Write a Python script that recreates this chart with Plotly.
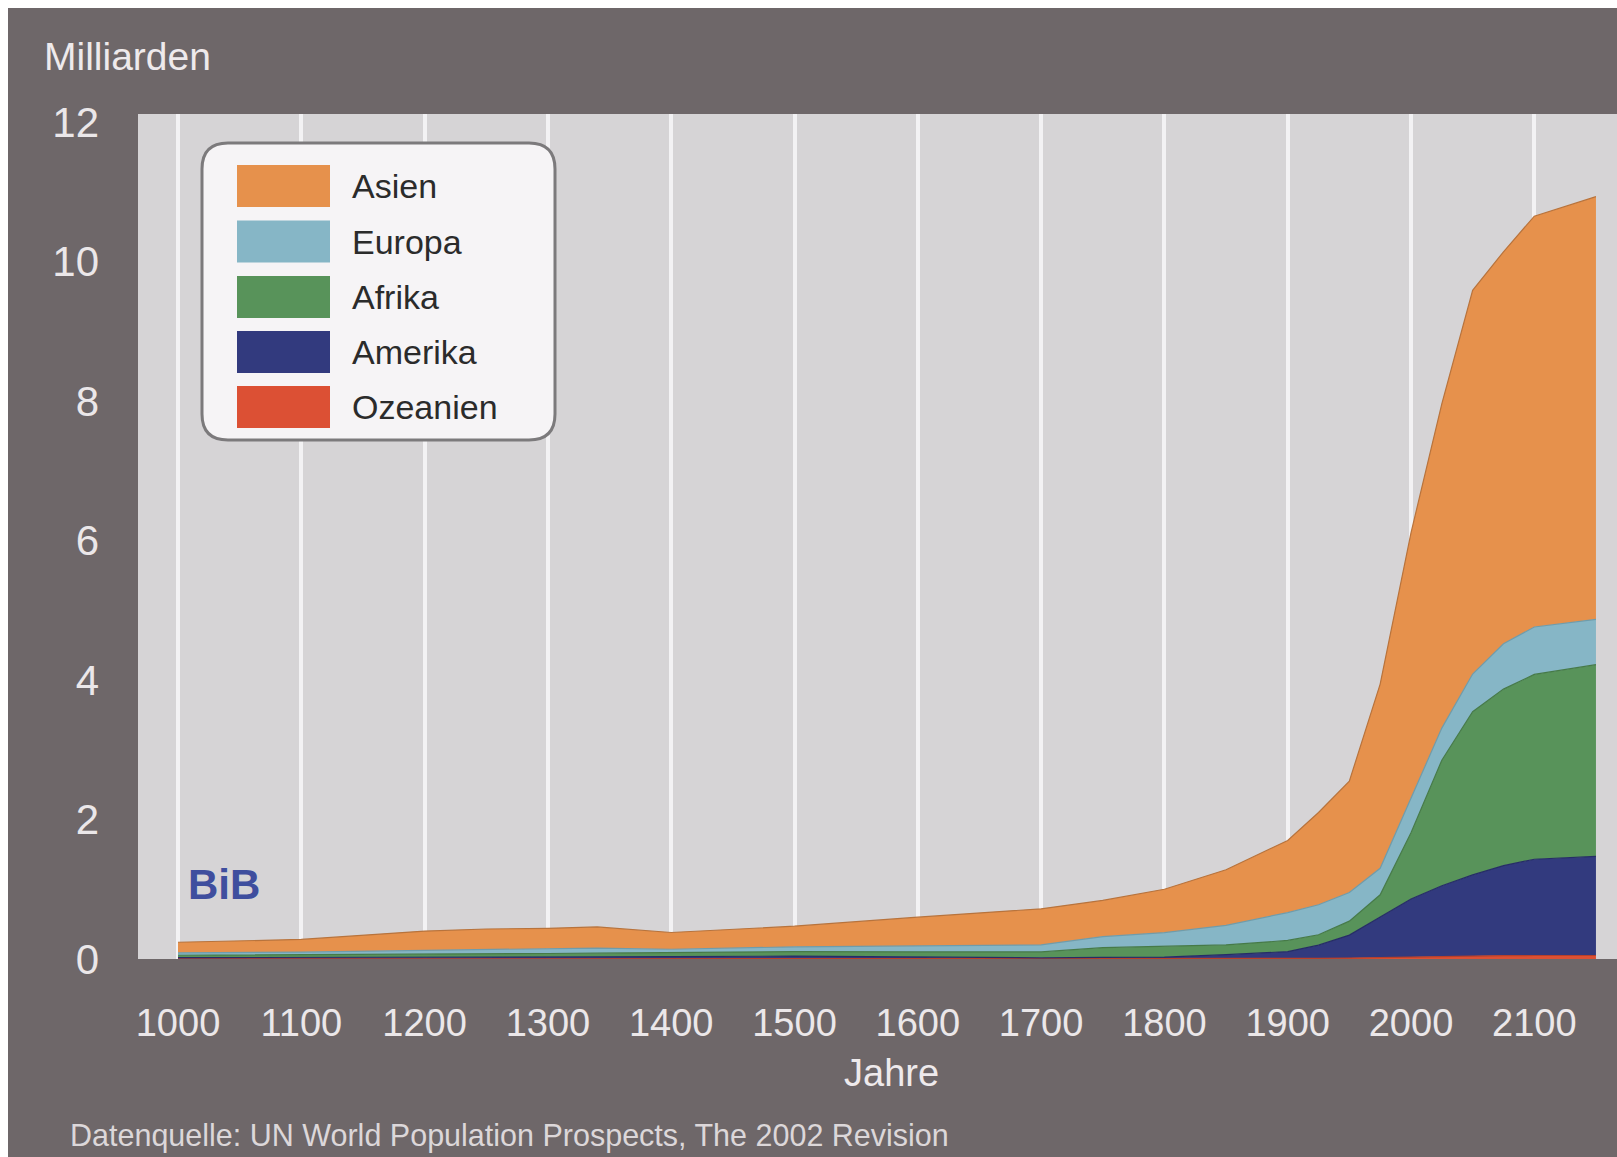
import plotly.graph_objects as go

# ---------------- data (billions) ----------------
years = [1000, 1100, 1200, 1250, 1300, 1340, 1400, 1500, 1600, 1700, 1750, 1800,
         1850, 1900, 1925, 1950, 1975, 2000, 2025, 2050, 2075, 2100, 2150]

ozeanien = [0.001, 0.001, 0.001, 0.001, 0.001, 0.001, 0.001, 0.002, 0.002, 0.002, 0.002, 0.002,
            0.002, 0.006, 0.008, 0.013, 0.021, 0.031, 0.040, 0.046, 0.049, 0.050, 0.050]
amerika = [0.018, 0.020, 0.023, 0.025, 0.028, 0.030, 0.032, 0.040, 0.025, 0.015, 0.020, 0.025,
           0.060, 0.100, 0.190, 0.330, 0.580, 0.830, 1.010, 1.160, 1.290, 1.380, 1.420]
afrika = [0.035, 0.038, 0.045, 0.048, 0.050, 0.052, 0.055, 0.065, 0.075, 0.085, 0.140, 0.150,
          0.140, 0.160, 0.150, 0.200, 0.320, 0.950, 1.800, 2.340, 2.530, 2.650, 2.750]
europa = [0.035, 0.040, 0.055, 0.060, 0.068, 0.074, 0.052, 0.067, 0.085, 0.100, 0.160, 0.200,
          0.280, 0.400, 0.430, 0.410, 0.380, 0.500, 0.460, 0.540, 0.650, 0.680, 0.650]
asien = [0.151, 0.181, 0.276, 0.296, 0.293, 0.303, 0.240, 0.296, 0.413, 0.518, 0.518, 0.623,
         0.798, 1.034, 1.322, 1.597, 2.640, 3.800, 4.650, 5.500, 5.620, 5.890, 6.060]

series_names = ["Ozeanien", "Amerika", "Afrika", "Europa", "Asien"]
series_values = [ozeanien, amerika, afrika, europa, asien]
fill_colors = ["#dc5034", "#323a7e", "#58935a", "#86b6c6", "#e6914c"]
line_colors = ["#b8402a", "#262d66", "#467a48", "#6f9cab", "#b8733c"]

x_ticks = [1000, 1100, 1200, 1300, 1400, 1500, 1600, 1700, 1800, 1900, 2000, 2100]
y_ticks = [0, 2, 4, 6, 8, 10, 12]

# ---------------- geometry (pixels, screen coordinates) ----------------
OFF = 8                      # white page border (body margin, left and top)
SCREEN_W, SCREEN_H = 1617, 1157
WIDTH, HEIGHT = SCREEN_W - OFF, SCREEN_H - OFF
L, R, T, B = 138, SCREEN_W, 114, 959     # plot area on screen
PX_PER_UNIT = 69.75
X0_YEAR, X0_PX, PX_PER_YEAR = 1000, 178, 1.233
x_range = [X0_YEAR - (X0_PX - L) / PX_PER_YEAR, X0_YEAR + (R - X0_PX) / PX_PER_YEAR]
y_range = [0, (B - T) / PX_PER_UNIT]
PW, PH = R - L, B - T


def fx(x):
    return (x - L) / PW


def fy(y):
    return (B - y) / PH


FONT = "Liberation Sans, Arial, sans-serif"
BG_DARK = "#6e6769"
PLOT_BG = "#d6d4d6"

fig = go.Figure()
for name, vals, fc, lc in zip(series_names, series_values, fill_colors, line_colors):
    fig.add_trace(go.Scatter(
        x=years, y=vals, name=name, mode="lines", stackgroup="one",
        line=dict(color=lc, width=1.2), fillcolor=fc, showlegend=False,
        hoverinfo="x+y+name",
    ))

shapes = []


def rrect(x0, y0, x1, y1, r):
    p = [
        f"M {fx(x0 + r)},{fy(y0)}",
        f"L {fx(x1 - r)},{fy(y0)}",
        f"Q {fx(x1)},{fy(y0)} {fx(x1)},{fy(y0 + r)}",
        f"L {fx(x1)},{fy(y1 - r)}",
        f"Q {fx(x1)},{fy(y1)} {fx(x1 - r)},{fy(y1)}",
        f"L {fx(x0 + r)},{fy(y1)}",
        f"Q {fx(x0)},{fy(y1)} {fx(x0)},{fy(y1 - r)}",
        f"L {fx(x0)},{fy(y0 + r)}",
        f"Q {fx(x0)},{fy(y0)} {fx(x0 + r)},{fy(y0)}",
        "Z",
    ]
    return " ".join(p)


# legend box
shapes.append(dict(type="path", xref="paper", yref="paper", path=rrect(202, 143, 555, 440, 26),
                   fillcolor="#f6f4f6", line=dict(color="#7c7a7c", width=3), layer="above"))

annotations = []
legend_order = ["Asien", "Europa", "Afrika", "Amerika", "Ozeanien"]
legend_centers = [186, 241.5, 297, 352, 407]
for nm, cy in zip(legend_order, legend_centers):
    col = fill_colors[series_names.index(nm)]
    shapes.append(dict(type="rect", xref="paper", yref="paper",
                       x0=fx(237), x1=fx(330), y0=fy(cy + 21), y1=fy(cy - 21),
                       fillcolor=col, line=dict(width=0), layer="above"))
    annotations.append(dict(text=nm, xref="paper", yref="paper", x=fx(350), y=fy(cy),
                            xanchor="left", yanchor="middle", showarrow=False,
                            font=dict(family=FONT, size=34, color="#2b2b2b")))

annotations += [
    dict(text="Milliarden", xref="paper", yref="paper", x=fx(42), y=fy(56),
         xanchor="left", yanchor="middle", showarrow=False,
         font=dict(family=FONT, size=39, color="#eeeaec")),
    dict(text="Jahre", xref="paper", yref="paper", x=fx(891), y=fy(1073),
         xanchor="center", yanchor="middle", showarrow=False,
         font=dict(family=FONT, size=38, color="#eeeaec")),
    dict(text="Datenquelle: UN World Population Prospects, The 2002 Revision",
         xref="paper", yref="paper", x=fx(68), y=fy(1135),
         xanchor="left", yanchor="middle", showarrow=False,
         font=dict(family=FONT, size=30.5, color="#dcd7d9")),
    dict(text="<b>BiB</b>", xref="paper", yref="paper", x=fx(224), y=fy(884),
         xanchor="center", yanchor="middle", showarrow=False,
         font=dict(family=FONT, size=42, color="#3f4e9e")),
]

fig.update_layout(
    width=WIDTH, height=HEIGHT,
    margin=dict(l=L - OFF, r=SCREEN_W - R, t=T - OFF, b=SCREEN_H - B, pad=0),
    paper_bgcolor=BG_DARK, plot_bgcolor=PLOT_BG,
    showlegend=False, shapes=shapes, annotations=annotations,
    xaxis=dict(range=x_range, tickvals=x_ticks, ticktext=[str(v) for v in x_ticks],
               showgrid=True, gridcolor="#f3f2f4", gridwidth=4, zeroline=False,
               showline=False, ticks="", ticklabelstandoff=38,
               tickfont=dict(family=FONT, size=38, color="#ebe7e9")),
    yaxis=dict(range=y_range, tickvals=y_ticks, showgrid=False, zeroline=False,
               showline=False, ticks="", ticklabelstandoff=38,
               tickfont=dict(family=FONT, size=42, color="#ebe7e9")),
)

fig.write_html(
    "out.html",
    post_script=("document.body.style.margin='8px 0 0 8px';"
                 "document.body.style.overflow='hidden';"),
)
